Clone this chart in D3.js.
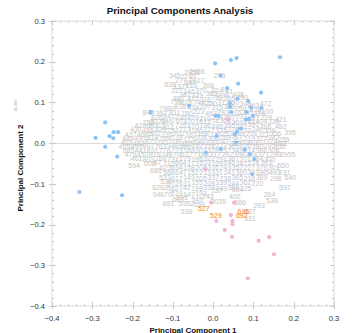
<!DOCTYPE html>
<html><head><meta charset="utf-8">
<script src="https://cdn.jsdelivr.net/npm/d3@7"></script>
<style>html,body{margin:0;padding:0;background:#fff;}svg{display:block;font-family:"Liberation Sans",Arial,sans-serif;}</style>
</head><body>
<script>
const xTicks = [-0.4,-0.3,-0.2,-0.1,0.0,0.1,0.2,0.3];
const yTicks = [-0.4,-0.3,-0.2,-0.1,0.0,0.1,0.2,0.3];

const blueX = [0.005,0.044,0.058,0.166,0.018,0.062,0.035,0.119,0.060,0.087,0.042,0.042,0.094,0.120,0.045,0.083,0.099,0.006,0.013,0.081,0.089,0.068,0.059,0.054,0.009,0.057,0.019,-0.018,0.079,0.091,0.102,0.097,-0.060,-0.155,-0.268,-0.247,-0.236,-0.292,-0.257,-0.248,-0.268,-0.238,-0.332,-0.226];
const blueY = [0.196,0.204,0.209,0.211,0.166,0.146,0.135,0.124,0.109,0.104,0.098,0.089,0.087,0.087,0.076,0.076,0.067,0.067,0.067,0.058,0.059,0.036,0.028,0.022,0.018,0.001,-0.014,-0.023,-0.016,-0.027,-0.039,-0.076,0.092,0.076,0.051,0.027,0.027,0.013,0.017,0.012,-0.009,-0.033,-0.120,-0.128];

const pinkX = [0.037,-0.019,-0.005,0.052,0.044,0.008,0.048,0.048,0.029,0.047,0.113,0.139,0.151,0.086];
const pinkY = [0.058,-0.064,-0.146,-0.146,-0.177,-0.191,-0.191,-0.199,-0.213,-0.230,-0.240,-0.231,-0.273,-0.332];

const orangeIds = ["527","529","696","692"];
const orangeX = [-0.023,0.007,0.075,0.071];
const orangeY = [-0.161,-0.178,-0.169,-0.178];

const grayLabels = [
["2958",-0.053,0.174],["2966",-0.040,0.177],
["345",-0.095,0.165],["2740",-0.062,0.163],["276",0.016,0.165],
["277",-0.080,0.155],["2027",-0.041,0.155],["297",-0.058,0.150],
["836",-0.107,0.145],["1327",-0.080,0.138],["133",-0.055,0.142],["398",-0.012,0.141],["35",0.028,0.132],
["327",-0.090,0.130],["146",-0.060,0.128],["370",-0.030,0.130],["324",0.009,0.130],["41",0.040,0.127],
["382",-0.070,0.120],["379",-0.039,0.118],["383",-0.004,0.122],["299",0.025,0.118],["408",0.062,0.120],
["881",-0.085,0.110],["412",-0.050,0.110],["318",-0.020,0.108],["761",0.010,0.111],["265",0.040,0.109],["390",0.072,0.112],
["798",-0.092,0.102],["875",-0.066,0.101],["744",-0.035,0.100],["250",-0.005,0.098],["312",0.025,0.101],["290",0.050,0.100],["348",0.080,0.097],["472",0.130,0.097],["263",0.100,0.092],
["7980",-0.115,0.086],["818",-0.082,0.089],["434",-0.050,0.088],["207",-0.020,0.090],["315",0.010,0.087],["366",0.040,0.090],["259",0.068,0.086],["338",0.105,0.082],
["843",-0.160,0.076],["397",-0.128,0.073],["811",-0.095,0.076],["780",-0.065,0.074],["222",-0.035,0.077],["463",-0.005,0.074],["283",0.025,0.076],["319",0.055,0.073],["245",0.085,0.076],["426",0.115,0.072],["2100",0.130,0.077],
["826",-0.140,0.063],["847",-0.110,0.065],["735",-0.080,0.062],["459",-0.050,0.064],["210",-0.020,0.061],["284",0.010,0.064],["357",0.040,0.062],["233",0.070,0.065],["387",0.100,0.061],["229",0.132,0.063],["421",0.168,0.059],
["8372",-0.137,0.054],["752",-0.160,0.050],["846",-0.115,0.052],["767",-0.088,0.055],["420",-0.060,0.052],["181",-0.030,0.054],["274",0.000,0.052],["303",0.030,0.055],["369",0.060,0.051],["261",0.090,0.053],["404",0.120,0.052],["336",0.150,0.054],
["4286",-0.175,0.043],["800",-0.145,0.044],["812",-0.112,0.041],["725",-0.080,0.044],["470",-0.050,0.042],["196",-0.020,0.044],["248",0.010,0.041],["355",0.040,0.044],["232",0.070,0.042],["391",0.100,0.045],["266",0.130,0.041],["482",0.168,0.041],
["430",-0.192,0.033],["485",-0.162,0.031],["839",-0.130,0.034],["757",-0.100,0.032],["713",-0.070,0.034],["186",-0.040,0.031],["217",-0.010,0.034],["325",0.020,0.032],["278",0.050,0.034],["372",0.080,0.031],["240",0.110,0.033],["309",0.140,0.031],
["437",-0.205,0.022],["468",-0.175,0.021],["802",-0.145,0.023],["735",-0.115,0.021],["702",-0.085,0.024],["161",-0.055,0.021],["198",-0.025,0.023],["320",0.005,0.021],["253",0.035,0.024],["344",0.065,0.021],["228",0.095,0.023],["311",0.125,0.021],["356",0.155,0.023],["395",0.191,0.025],
["449",-0.212,0.012],["490",-0.182,0.011],["814",-0.150,0.013],["769",-0.120,0.011],["718",-0.090,0.013],["173",-0.060,0.010],["206",-0.030,0.013],["306",0.000,0.011],["269",0.030,0.013],["361",0.060,0.010],["219",0.090,0.012],["377",0.120,0.011],["342",0.150,0.013],["255",0.175,0.010],
["403",-0.215,0.002],["462",-0.185,0.000],["823",-0.155,0.003],["741",-0.125,0.001],["709",-0.095,0.003],["165",-0.065,0.000],["189",-0.035,0.002],["330",-0.005,0.001],["247",0.025,0.003],["353",0.055,0.000],["236",0.085,0.002],["302",0.115,0.001],["374",0.145,0.003],["281",0.170,0.000],
["455",-0.220,-0.008],["497",-0.190,-0.009],["807",-0.160,-0.007],["763",-0.130,-0.009],["348",-0.100,-0.007],["886",-0.070,-0.009],["192",-0.040,-0.007],["314",-0.010,-0.009],["272",0.020,-0.007],["363",0.050,-0.009],["226",0.080,-0.007],["380",0.110,-0.009],["295",0.140,-0.007],["335",0.165,-0.009],
["685",-0.210,-0.018],["441",-0.180,-0.019],["831",-0.150,-0.017],["776",-0.120,-0.019],["723",-0.090,-0.017],["168",-0.060,-0.019],["201",-0.030,-0.017],["328",0.000,-0.019],["257",0.030,-0.017],["349",0.060,-0.019],["214",0.090,-0.017],["386",0.120,-0.019],["308",0.150,-0.017],
["479",-0.205,-0.028],["453",-0.175,-0.029],["819",-0.145,-0.027],["748",-0.115,-0.029],["706",-0.085,-0.027],["177",-0.055,-0.029],["184",-0.025,-0.027],["317",0.005,-0.029],["262",0.035,-0.027],["358",0.065,-0.029],["224",0.095,-0.027],["371",0.125,-0.029],["289",0.155,-0.027],["2955",0.185,-0.027],
["461",-0.190,-0.038],["803",-0.160,-0.039],["788",-0.130,-0.037],["731",-0.100,-0.039],["175",-0.070,-0.037],["195",-0.040,-0.039],["322",-0.010,-0.037],["251",0.020,-0.039],["367",0.050,-0.037],["211",0.080,-0.039],["384",0.110,-0.037],["300",0.140,-0.039],
["594",-0.196,-0.054],["606",-0.157,-0.049],["87",-0.138,-0.048],["715",-0.110,-0.049],["664",-0.080,-0.047],["172",-0.050,-0.049],["203",-0.020,-0.047],["329",0.010,-0.049],["246",0.040,-0.047],["341",0.070,-0.049],["218",0.100,-0.047],["513",0.133,-0.047],["550",0.174,-0.054],
["623",-0.118,-0.060],["654",-0.090,-0.061],["158",-0.060,-0.059],["208",-0.030,-0.061],["316",0.000,-0.059],["243",0.030,-0.061],["352",0.060,-0.059],["227",0.090,-0.061],["376",0.120,-0.059],["301",0.150,-0.061],
["686",-0.142,-0.066],
["588",-0.110,-0.072],["647",-0.080,-0.073],["152",-0.050,-0.071],["213",-0.020,-0.073],["331",0.010,-0.071],["241",0.040,-0.073],["360",0.070,-0.071],["221",0.100,-0.073],["385",0.125,-0.071],["493",0.153,-0.072],["231",0.177,-0.072],
["533",-0.120,-0.085],["612",-0.090,-0.086],["149",-0.060,-0.084],["205",-0.030,-0.086],["337",0.000,-0.084],["238",0.030,-0.086],["365",0.060,-0.084],["216",0.090,-0.086],["389",0.120,-0.084],["298",0.155,-0.086],["540",0.191,-0.085],
["530",-0.117,-0.094],
["572",-0.100,-0.098],["631",-0.070,-0.099],["155",-0.040,-0.097],["209",-0.010,-0.099],["339",0.020,-0.097],["244",0.050,-0.099],["362",0.080,-0.097],["220",0.110,-0.099],
["6262",-0.132,-0.110],["582",-0.100,-0.111],["142",-0.070,-0.109],["199",-0.040,-0.111],["333",-0.010,-0.109],["249",0.020,-0.111],["368",0.050,-0.109],["225",0.080,-0.111],["597",0.178,-0.110],
["137",0.009,-0.117],["684",0.061,-0.115],
["94",-0.140,-0.127],["670",-0.117,-0.126],["519",-0.090,-0.124],["147",-0.060,-0.126],["193",-0.030,-0.124],["264",0.140,-0.126],
["243",-0.013,-0.131],["402",0.054,-0.130],
["683",-0.087,-0.138],["893",-0.078,-0.134],["545",-0.040,-0.139],
["538",0.146,-0.142],["366",0.067,-0.145],["3035",0.013,-0.144],
["681",-0.111,-0.148],["5352",-0.066,-0.148],["559",-0.035,-0.150],
["293",0.114,-0.154],
["536",-0.066,-0.168],["537",0.091,-0.167],
["531",0.091,-0.186]
];

const W = 360, H = 333;
const L = 52, R = 334, T = 21, B = 306;
const x = d3.scaleLinear().domain([-0.4, 0.3]).range([L, R]);
const y = d3.scaleLinear().domain([-0.4, 0.3]).range([B, T]);

const svg = d3.select("body").append("svg").attr("width", W).attr("height", H);

// frame
const frameColor = "#d9d9d9";
svg.append("rect").attr("x", L).attr("y", T).attr("width", R - L).attr("height", B - T)
  .attr("fill", "none").attr("stroke", frameColor).attr("stroke-width", 1);

// zero line
svg.append("line").attr("x1", L).attr("x2", R).attr("y1", Math.round(y(0)) + 0.5).attr("y2", Math.round(y(0)) + 0.5)
  .attr("stroke", "#dcdcdc");

// minor / major ticks on all sides
const minor = d3.range(-40, 31, 2).map(v => v / 100);
const tg = svg.append("g").attr("stroke", "#c8c8c8").attr("stroke-width", 1);
minor.forEach(v => {
  const isMajor = Math.abs(Math.round(v * 10) - v * 10) < 1e-6;
  const len = isMajor ? 4 : 2;
  const px = Math.round(x(v)) + 0.5, py = Math.round(y(v)) + 0.5;
  tg.append("line").attr("x1", px).attr("x2", px).attr("y1", B).attr("y2", B - len);
  tg.append("line").attr("x1", px).attr("x2", px).attr("y1", T).attr("y2", T + len);
  tg.append("line").attr("y1", py).attr("y2", py).attr("x1", L).attr("x2", L + len);
  tg.append("line").attr("y1", py).attr("y2", py).attr("x1", R).attr("x2", R - len);
  if (isMajor) {
    tg.append("line").attr("x1", px).attr("x2", px).attr("y1", B).attr("y2", B + 3);
    tg.append("line").attr("y1", py).attr("y2", py).attr("x1", L).attr("x2", L - 3);
  }
});

// tick labels
svg.append("g").selectAll("text").data(xTicks).join("text")
  .attr("x", d => x(d)).attr("y", 321).attr("text-anchor", "middle")
  .attr("font-size", 7.6).attr("fill", "#333").text(d => d3.format(".1f")(d));
svg.append("g").selectAll("text").data(yTicks).join("text")
  .attr("x", 45).attr("y", d => y(d) + 2.7).attr("text-anchor", "end")
  .attr("font-size", 7.6).attr("fill", "#333").text(d => d3.format(".1f")(d));

// gray labels
svg.append("g").selectAll("text").data(grayLabels).join("text")
  .attr("x", d => x(d[1])).attr("y", d => y(d[2]) + 2.5).attr("text-anchor", "middle")
  .attr("font-size", 7).attr("fill", "#c4c4c4").text(d => d[0]);

// blue dots
svg.append("g").selectAll("circle").data(blueX.map((v, i) => [v, blueY[i]])).join("circle")
  .attr("cx", d => x(d[0])).attr("cy", d => y(d[1])).attr("r", 2.1).attr("fill", "#8cc3f4");

// pink dots
svg.append("g").selectAll("circle").data(pinkX.map((v, i) => [v, pinkY[i]])).join("circle")
  .attr("cx", d => x(d[0])).attr("cy", d => y(d[1])).attr("r", 2.1).attr("fill", "#f6b2d4");

// orange labels
svg.append("g").selectAll("text").data(orangeIds.map((t, i) => [t, orangeX[i], orangeY[i]])).join("text")
  .attr("x", d => x(d[1])).attr("y", d => y(d[2]) + 2.5).attr("text-anchor", "middle")
  .attr("font-size", 7).attr("fill", "#f0842a").text(d => d[0]);

// titles
svg.append("text").attr("x", 180).attr("y", 14).attr("text-anchor", "middle")
  .attr("font-size", 9.8).attr("font-weight", "bold").attr("fill", "#111").text("Principal Components Analysis");
svg.append("text").attr("x", (L + R) / 2).attr("y", 333).attr("text-anchor", "middle")
  .attr("font-size", 8).attr("font-weight", "bold").attr("fill", "#111").text("Principal Component 1");
svg.append("text").attr("transform", "translate(23,168) rotate(-90)").attr("text-anchor", "middle")
  .attr("font-size", 8).attr("font-weight", "bold").attr("fill", "#111").text("Principal Component 2");
svg.append("text").attr("transform", "translate(17,105) rotate(-90)").attr("text-anchor", "middle")
  .attr("font-size", 3.5).attr("fill", "#999").text("16.26%");
</script>
</body></html>
